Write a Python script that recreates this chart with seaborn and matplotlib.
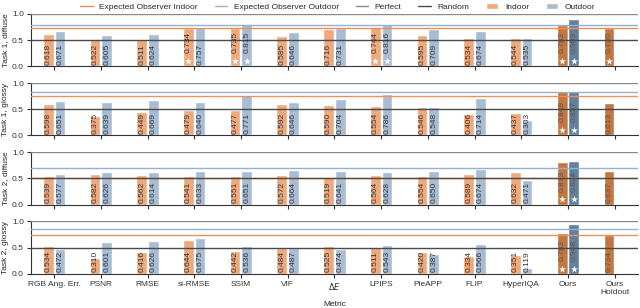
import matplotlib
matplotlib.use("Agg")
import matplotlib.pyplot as plt
from matplotlib.lines import Line2D
from matplotlib.patches import Patch
import pandas as pd
import seaborn as sns

metrics = ["RGB Ang. Err.", "PSNR", "RMSE", "si-RMSE", "SSIM", "VIF", "$\\Delta E$",
           "LPIPS", "PieAPP", "FLIP", "HyperIQA", "Ours", "Ours\nHoldout"]
tasks = ["Task 1, diffuse", "Task 1, glossy", "Task 2, diffuse", "Task 2, glossy"]

# accuracy per metric (indoor / outdoor); holdout has no outdoor score
indoor_scores = [
    [0.618, 0.522, 0.511, 0.734, 0.735, 0.585, 0.716, 0.744, 0.595, 0.534, 0.544, 0.783, 0.730],
    [0.598, 0.375, 0.449, 0.479, 0.477, 0.592, 0.590, 0.554, 0.546, 0.406, 0.437, 0.849, 0.613],
    [0.539, 0.582, 0.562, 0.541, 0.551, 0.572, 0.519, 0.564, 0.554, 0.589, 0.632, 0.813, 0.637],
    [0.534, 0.310, 0.416, 0.644, 0.442, 0.484, 0.525, 0.511, 0.420, 0.334, 0.351, 0.783, 0.734],
]
outdoor_scores = [
    [0.671, 0.605, 0.624, 0.757, 0.815, 0.646, 0.731, 0.816, 0.709, 0.674, 0.535, 0.903],
    [0.651, 0.639, 0.669, 0.640, 0.771, 0.646, 0.704, 0.786, 0.548, 0.714, 0.303, 0.857],
    [0.577, 0.626, 0.614, 0.633, 0.651, 0.664, 0.641, 0.628, 0.650, 0.674, 0.471, 0.824],
    [0.472, 0.601, 0.626, 0.675, 0.536, 0.487, 0.474, 0.543, 0.387, 0.566, 0.119, 0.948],
]
# metric indices marked with a star
best_indoor = [[3, 4, 7, 11, 12], [11], [11], [11]]
best_outdoor = [[4, 7, 11], [11], [11], [11]]

expected_indoor = [0.725, 0.755, 0.50, 0.75]
expected_outdoor = [0.795, 0.82, 0.69, 0.86]

light = {"Indoor": "#efa97c", "Outdoor": "#a8bcd4"}
dark = {"Indoor": "#c4763e", "Outdoor": "#62809e"}
line_in = "#ee9055"
line_out = "#95b0d2"
perfect_c = "#8a8a8a"
random_c = "#4a4a4a"

sns.set_style("ticks")
plt.rcParams["font.family"] = ["Liberation Sans", "DejaVu Sans"]
plt.rcParams["font.size"] = 6
plt.rcParams["axes.edgecolor"] = "#333333"
plt.rcParams["axes.linewidth"] = 0.8
plt.rcParams["xtick.major.size"] = 3
plt.rcParams["ytick.major.size"] = 3
plt.rcParams["xtick.major.width"] = 0.8
plt.rcParams["ytick.major.width"] = 0.8

fig, axes = plt.subplots(4, 1, figsize=(6.4, 3.08), dpi=100, sharex=True)
fig.subplots_adjust(left=0.048, right=0.997, top=0.955, bottom=0.111, hspace=0.32)

for t, ax in enumerate(axes):
    rows = []
    for i, m in enumerate(metrics):
        rows.append({"metric": m, "condition": "Indoor", "score": indoor_scores[t][i]})
        if i < len(outdoor_scores[t]):
            rows.append({"metric": m, "condition": "Outdoor", "score": outdoor_scores[t][i]})
    df = pd.DataFrame(rows)
    sns.barplot(data=df, x="metric", y="score", hue="condition", order=metrics,
                hue_order=["Indoor", "Outdoor"], palette=light, width=0.5, gap=0.08,
                errorbar=None, saturation=1, legend=False, ax=ax, zorder=1)

    for cond, cont in zip(["Indoor", "Outdoor"], ax.containers):
        stars = best_indoor[t] if cond == "Indoor" else best_outdoor[t]
        for bar in cont:
            xc = bar.get_x() + bar.get_width() / 2
            idx = int(round(xc))
            h = bar.get_height()
            ours = idx >= 11
            if ours:
                bar.set_facecolor(dark[cond])
            starred = idx in stars
            ax.text(xc, 0.25 if starred else 0.03, f"{h:.3f}", rotation=90,
                    ha="center", va="bottom", fontsize=6,
                    color="#555555" if ours else "#333333", zorder=5)
            if starred:
                ax.scatter([xc], [0.1], marker="*", s=28, color="white",
                           linewidths=0, zorder=6)

    ax.axhline(expected_indoor[t], color=line_in, lw=1, zorder=3)
    ax.axhline(expected_outdoor[t], color=line_out, lw=1, zorder=3)
    ax.axhline(1.0, color=perfect_c, lw=1, zorder=3)
    ax.axhline(0.5, color=random_c, lw=1, zorder=3)

    ax.set_ylim(0, 1)
    ax.set_xlim(-0.5, len(metrics) - 0.5)
    ax.set_yticks([0.0, 0.5, 1.0])
    ax.set_ylabel(tasks[t], fontsize=6, labelpad=2)
    ax.set_xlabel("")
    ax.tick_params(labelsize=6, pad=2, colors="#333333")
    sns.despine(ax=ax)

axes[-1].set_xlabel("Metric", fontsize=6, labelpad=4)

handles = [
    Line2D([], [], color=line_in, lw=1, label="Expected Observer Indoor"),
    Line2D([], [], color=line_out, lw=1, label="Expected Observer Outdoor"),
    Line2D([], [], color=perfect_c, lw=1, label="Perfect"),
    Line2D([], [], color=random_c, lw=1, label="Random"),
    Patch(facecolor=light["Indoor"], label="Indoor"),
    Patch(facecolor=light["Outdoor"], label="Outdoor"),
]
fig.legend(handles=handles, loc="upper center", bbox_to_anchor=(0.528, 1.005), ncol=6,
           frameon=False, fontsize=6, handlelength=1.5, handletextpad=0.8,
           columnspacing=2.0, borderpad=0.1)

fig.savefig("out.png", dpi=100)
